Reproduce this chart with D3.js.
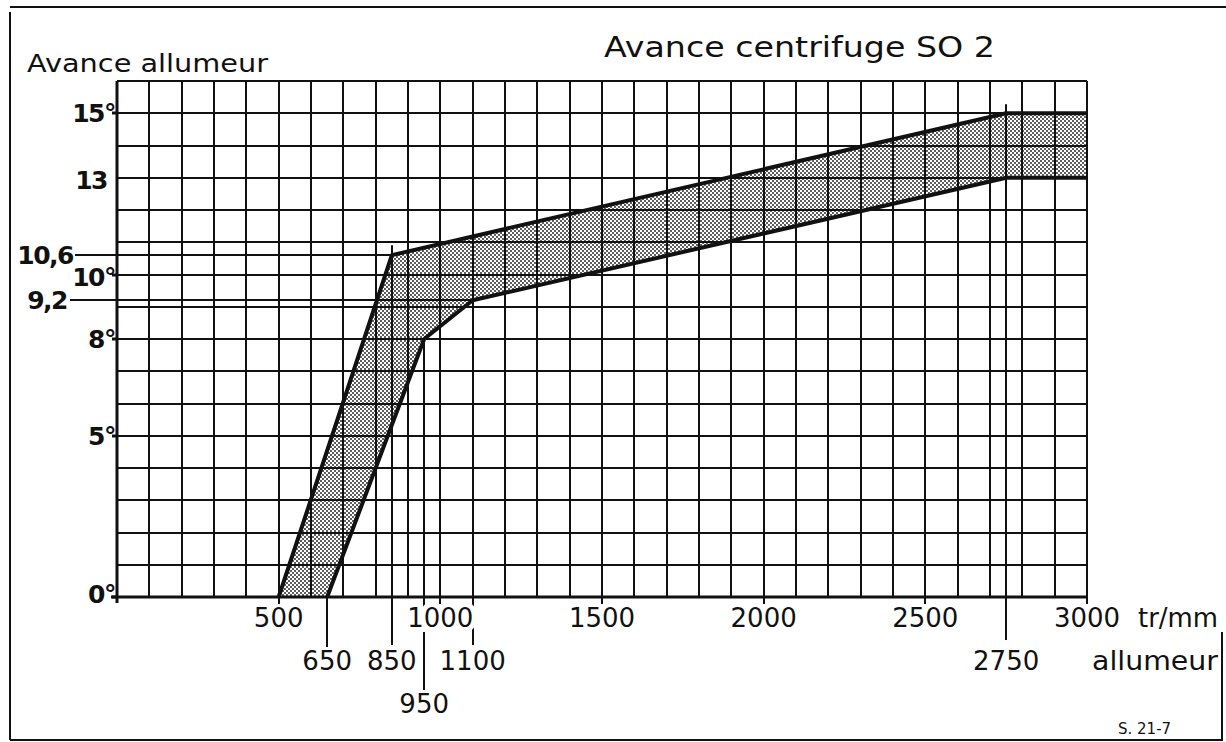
<!DOCTYPE html>
<html>
<head>
<meta charset="utf-8">
<script src="https://cdn.jsdelivr.net/npm/d3@7"></script>
<style>
  body { margin: 0; background: #fff; }
  text { font-family: "DejaVu Sans", sans-serif; fill: #111; }
</style>
</head>
<body>
<script>
// courbe haute / basse de l'avance centrifuge
const upperRpm = [500, 850, 2750, 3000];
const upperDeg = [0, 10.6, 15, 15];
const lowerRpm = [650, 950, 1100, 2750, 3000];
const lowerDeg = [0, 8, 9.2, 13, 13];

// graduations
const xTicks = [500, 1000, 1500, 2000, 2500, 3000];
const yTicks = [0, 5, 8, 10, 15];
const yTickLabels = ["0°", "5°", "8°", "10°", "15°"];
const markRpm = [650, 850, 950, 1100, 2750];
const markDeg = [10.6, 9.2];
const markDegLabels = ["10,6", "9,2"];

const width = 1226, height = 742;

const x = d3.scaleLinear().domain([0, 3000]).range([117, 1087]);
const y = d3.scaleLinear().domain([0, 16]).range([597, 81]);
// positions arrondies pour des traits nets
const xr = d => Math.round(x(d));
const yr = d => Math.round(y(d));

const svg = d3.select("body").append("svg")
  .attr("width", width)
  .attr("height", height);

// motif pointillé
const pat = svg.append("defs").append("pattern")
  .attr("id", "dots")
  .attr("width", 4).attr("height", 4)
  .attr("patternUnits", "userSpaceOnUse");
pat.append("rect").attr("width", 4).attr("height", 4).attr("fill", "#fff");
pat.append("circle").attr("cx", 1).attr("cy", 1).attr("r", 0.9).attr("fill", "#111");
pat.append("circle").attr("cx", 3).attr("cy", 3).attr("r", 0.9).attr("fill", "#111");

// cadre
svg.append("path")
  .attr("d", "M10,740 L10,12 M10,7 L1226,7 M10,740 L1222,740 L1222,632")
  .attr("fill", "none").attr("stroke", "#111").attr("stroke-width", 2);

// zone entre les deux courbes
const upper = upperRpm.map((r, i) => [r, upperDeg[i]]);
const lower = lowerRpm.map((r, i) => [r, lowerDeg[i]]);
const band = upper.concat(lower.slice().reverse());
const line = d3.line().x(d => x(d[0])).y(d => y(d[1]));

svg.append("path")
  .attr("d", line(band) + "Z")
  .attr("fill", "url(#dots)");

// quadrillage
svg.append("g").selectAll("line")
  .data(d3.range(0, 3001, 100))
  .join("line")
  .attr("x1", xr).attr("x2", xr)
  .attr("y1", yr(0)).attr("y2", yr(16))
  .attr("stroke", "#111").attr("stroke-width", 2);

svg.append("g").selectAll("line")
  .data(d3.range(0, 17, 1))
  .join("line")
  .attr("x1", xr(0)).attr("x2", xr(3000))
  .attr("y1", yr).attr("y2", yr)
  .attr("stroke", "#111").attr("stroke-width", 2);

// axes
svg.append("line")
  .attr("x1", xr(0)).attr("x2", xr(0)).attr("y1", yr(16)).attr("y2", yr(0) + 6)
  .attr("stroke", "#111").attr("stroke-width", 3);
svg.append("line")
  .attr("x1", xr(0) - 6).attr("x2", xr(3000) + 1).attr("y1", yr(0)).attr("y2", yr(0))
  .attr("stroke", "#111").attr("stroke-width", 3);

// petits traits
svg.append("g").selectAll("line")
  .data(xTicks)
  .join("line")
  .attr("x1", xr).attr("x2", xr)
  .attr("y1", yr(0)).attr("y2", yr(0) + 7)
  .attr("stroke", "#111").attr("stroke-width", 2);
svg.append("g").selectAll("line")
  .data(yTicks)
  .join("line")
  .attr("x1", xr(0) - 5).attr("x2", xr(0))
  .attr("y1", yr).attr("y2", yr)
  .attr("stroke", "#111").attr("stroke-width", 3);

// repères horizontaux 10,6 et 9,2
const markDegEnd = [850, 1100];
const markDegStart = [75, 70];
svg.append("g").selectAll("line")
  .data(markDeg)
  .join("line")
  .attr("x1", (d, i) => markDegStart[i]).attr("x2", (d, i) => x(markDegEnd[i]))
  .attr("y1", yr).attr("y2", yr)
  .attr("stroke", "#111").attr("stroke-width", 2);

// repères verticaux
const markTop = [0, 10.6, 8, 9.2, 15];
const markTopOffset = [0, -10, 0, 0, -9];
const markBottom = [647, 645, 690, 645, 640];
svg.append("g").selectAll("line")
  .data(markRpm)
  .join("line")
  .attr("x1", xr).attr("x2", xr)
  .attr("y1", (d, i) => y(markTop[i]) + markTopOffset[i])
  .attr("y2", (d, i) => markBottom[i])
  .attr("stroke", "#111").attr("stroke-width", 2);

// contour des courbes
[upper, lower].forEach(pts => {
  svg.append("path")
    .attr("d", line(pts))
    .attr("fill", "none")
    .attr("stroke", "#111")
    .attr("stroke-width", 4)
    .attr("stroke-linejoin", "round");
});

// textes
svg.append("text")
  .attr("x", 604).attr("y", 57)
  .attr("font-size", 29)
  .attr("textLength", 391).attr("lengthAdjust", "spacingAndGlyphs")
  .text("Avance centrifuge SO 2");

svg.append("text")
  .attr("x", 27).attr("y", 72)
  .attr("font-size", 24)
  .attr("textLength", 241).attr("lengthAdjust", "spacingAndGlyphs")
  .text("Avance allumeur");

// étiquettes axe Y
svg.append("g").selectAll("text")
  .data(yTicks)
  .join("text")
  .attr("x", x(0) - 2)
  .attr("y", d => y(d) + 9 - (d === 0 ? 3 : 0) + (d === 10 ? 2 : 0))
  .attr("text-anchor", "end")
  .attr("font-size", 25).attr("font-weight", "bold")
  .attr("letter-spacing", -1.5)
  .text((d, i) => yTickLabels[i]);

svg.append("text")
  .attr("x", 107).attr("y", y(13) + 11)
  .attr("text-anchor", "end")
  .attr("font-size", 25).attr("font-weight", "bold")
  .attr("letter-spacing", -1.5)
  .text("13");

const markLabelEnd = [73, 67];
svg.append("g").selectAll("text")
  .data(markDeg)
  .join("text")
  .attr("x", (d, i) => markLabelEnd[i])
  .attr("y", d => y(d) + 9)
  .attr("text-anchor", "end")
  .attr("font-size", 25).attr("font-weight", "bold")
  .attr("letter-spacing", -1.5)
  .text((d, i) => markDegLabels[i]);

// étiquettes axe X
svg.append("g").selectAll("text")
  .data(xTicks)
  .join("text")
  .attr("x", d => x(d)).attr("y", 627)
  .attr("text-anchor", "middle")
  .attr("font-size", 26)
  .attr("stroke", d => d === 1000 ? "#fff" : "none")
  .attr("stroke-width", 10)
  .attr("paint-order", "stroke")
  .text(d => d);

const markRow = [670, 670, 713, 670, 670];
svg.append("g").selectAll("text")
  .data(markRpm)
  .join("text")
  .attr("x", d => x(d)).attr("y", (d, i) => markRow[i])
  .attr("text-anchor", "middle")
  .attr("font-size", 26)
  .text(d => d);

svg.append("text")
  .attr("x", 1138).attr("y", 627)
  .attr("font-size", 26)
  .attr("textLength", 80).attr("lengthAdjust", "spacingAndGlyphs")
  .text("tr/mm");

svg.append("text")
  .attr("x", 1092).attr("y", 670)
  .attr("font-size", 26)
  .attr("textLength", 126).attr("lengthAdjust", "spacingAndGlyphs")
  .text("allumeur");

svg.append("text")
  .attr("x", 1118).attr("y", 734)
  .attr("font-size", 15)
  .text("S. 21-7");
</script>
</body>
</html>
